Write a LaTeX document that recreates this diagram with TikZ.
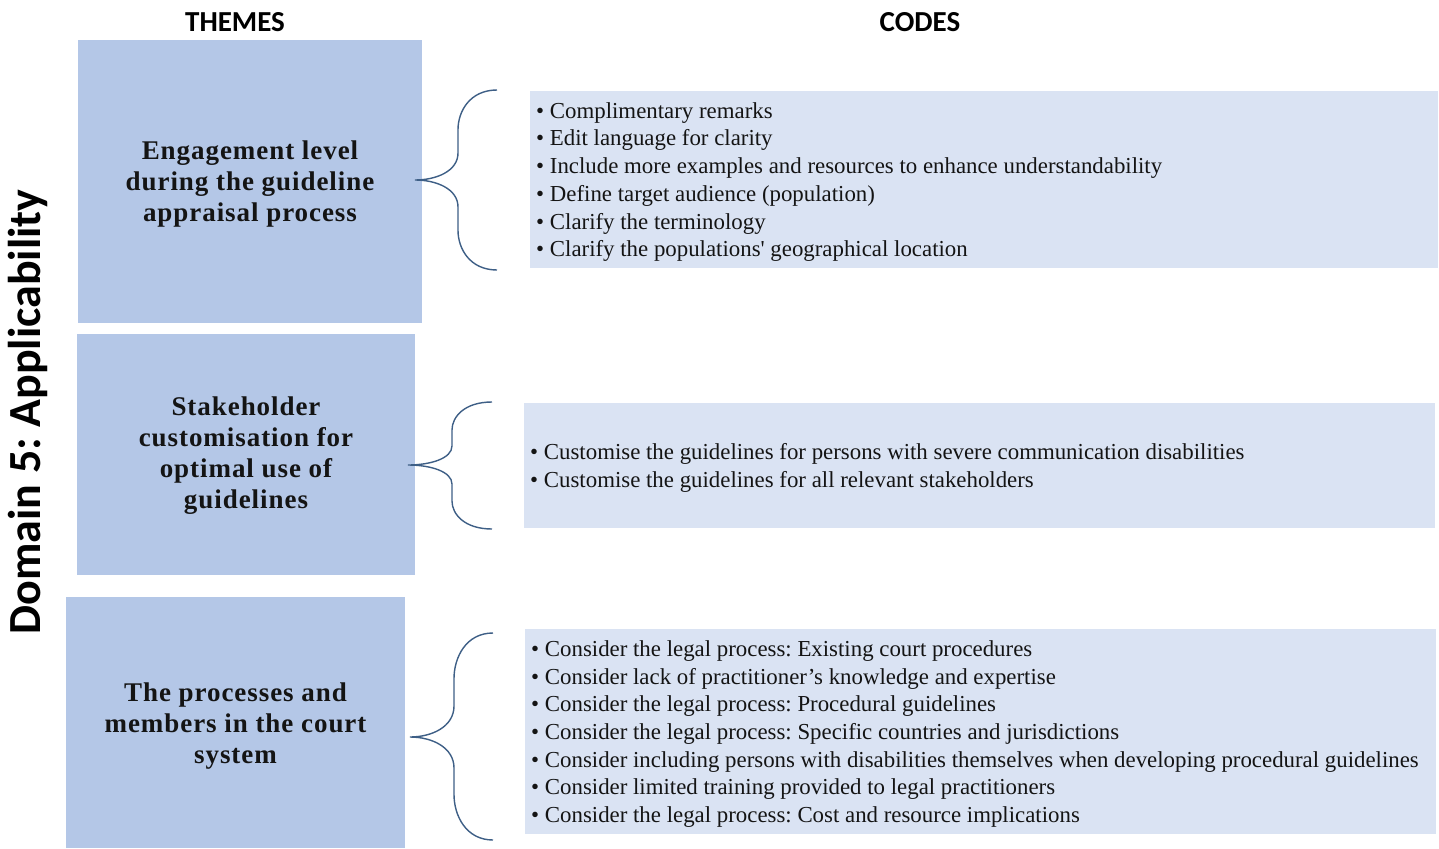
\documentclass[tikz,border=0pt]{standalone}
\usepackage{fontspec}
\setmainfont{Liberation Serif}
\newfontfamily\calibri{Carlito}
\frenchspacing
\definecolor{themefill}{HTML}{B4C7E7}
\definecolor{codefill}{HTML}{DAE3F3}
\definecolor{bracecol}{HTML}{3E5F86}
\newcommand\mybrace[6]{% tipx tipy spinex rightx topy boty
  \draw[bracestyle] (#4,#5) .. controls ({#3+0.3*(#4-#3)},#5) and (#3,{#5+0.12*(#6-#5)}) .. (#3,{#5+0.22*(#6-#5)})
    -- (#3,{#2-0.15*(#6-#5)}) .. controls (#3,{#2-0.05*(#6-#5)}) and ({#1+0.5*(#3-#1)},#2) .. (#1,#2)
    .. controls ({#1+0.5*(#3-#1)},#2) and (#3,{#2+0.05*(#6-#5)}) .. (#3,{#2+0.15*(#6-#5)})
    -- (#3,{#6-0.22*(#6-#5)}) .. controls (#3,{#6-0.12*(#6-#5)}) and ({#3+0.3*(#4-#3)},#6) .. (#4,#6);}
\begin{document}
\begin{tikzpicture}[x=1pt,y=-1pt,
  themebox/.style={fill=themefill,draw=none},
  codebox/.style={fill=codefill,draw=none},
  themetext/.style={font=\fontsize{27}{31}\selectfont\bfseries\addfontfeatures{LetterSpace=3.5},align=center,text=black!92},
  codetext/.style={font=\fontsize{22.85}{27.7}\selectfont,align=left,anchor=west,inner sep=0pt,text=black!92},
  header/.style={font=\calibri\bfseries\fontsize{29}{34}\selectfont},
  bracestyle/.style={draw=bracecol,line width=1.4pt}]
\useasboundingbox (0,0) rectangle (1439,848);
\fill[white] (0,0) rectangle (1439,848);
% headers
\node[header] (hthemes) at (235,22) {THEMES};
\node[header] (hcodes) at (920,22) {CODES};
\node[font=\calibri\bfseries\fontsize{46}{52}\selectfont,rotate=90] (domain) at (28,412) {Domain 5: Applicability};
% theme boxes
\fill[themebox] (78,40) rectangle (422,323);
\fill[themebox] (77,334) rectangle (415,575);
\fill[themebox] (66,597) rectangle (405,848);
\node[themetext] (t1) at (250,184) {Engagement level\\during the guideline\\appraisal process};
\node[themetext] (t2) at (246,456) {Stakeholder\\customisation for\\optimal use of\\guidelines};
\node[themetext] (t3) at (235.5,726) {The processes and\\members in the court\\system};
% code boxes
\fill[codebox] (530,91) rectangle (1438,268);
\fill[codebox] (524,403) rectangle (1435,528);
\fill[codebox] (525,629) rectangle (1436,834);
\node[codetext] (c1) at (536,182) {\textbullet\ Complimentary remarks\\
\textbullet\ Edit language for clarity\\
\textbullet\ Include more examples and resources to enhance understandability\\
\textbullet\ Define target audience (population)\\
\textbullet\ Clarify the terminology\\
\textbullet\ Clarify the populations\textquotesingle\ geographical location};
\node[codetext] (c2) at (530,468) {\textbullet\ Customise the guidelines for persons with severe communication disabilities\\
\textbullet\ Customise the guidelines for all relevant stakeholders};
\node[codetext] (c3) at (531,734) {\textbullet\ Consider the legal process: Existing court procedures\\
\textbullet\ Consider lack of practitioner’s knowledge and expertise\\
\textbullet\ Consider the legal process: Procedural guidelines\\
\textbullet\ Consider the legal process: Specific countries and jurisdictions\\
\textbullet\ Consider including persons with disabilities themselves when developing procedural guidelines\\
\textbullet\ Consider limited training provided to legal practitioners\\
\textbullet\ Consider the legal process: Cost and resource implications};
% braces
\mybrace{415}{180}{458}{497}{90}{270}
\mybrace{408}{465}{452}{492}{402}{529}
\mybrace{410}{737}{454}{493}{633}{840}
\end{tikzpicture}
\end{document}
